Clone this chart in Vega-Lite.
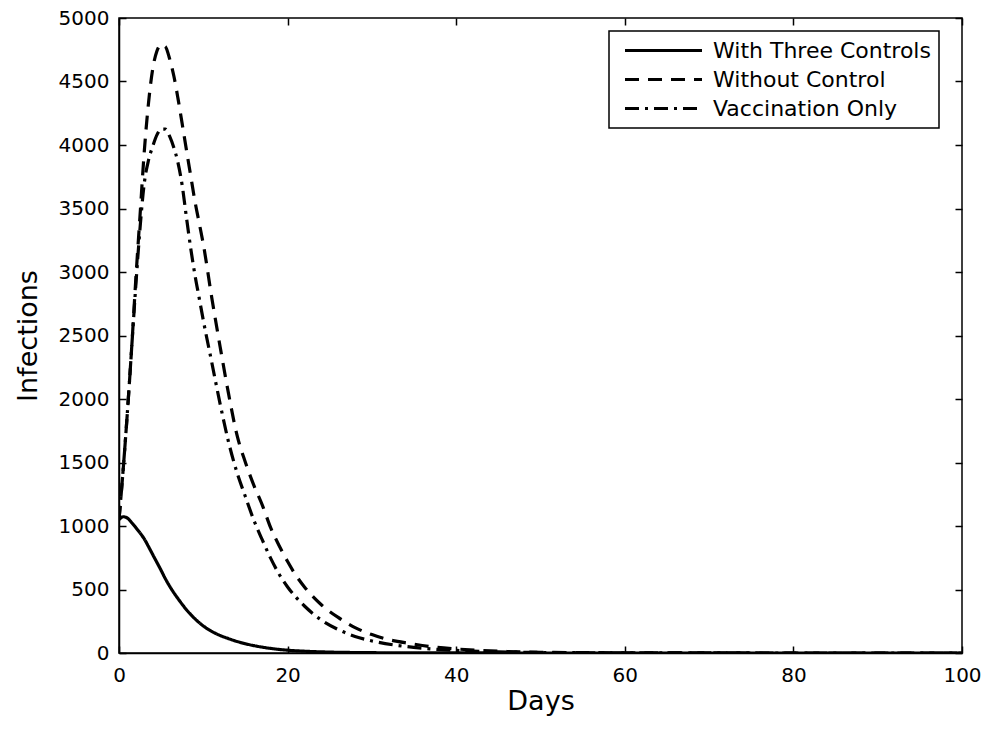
{
  "$schema": "https://vega.github.io/schema/vega-lite/v6.json",
  "autosize": {"type": "none"},
  "padding": {"left": 119, "top": 18, "right": 24, "bottom": 76},
  "width": 843,
  "height": 635,
  "background": "white",
  "config": {
    "view": {"stroke": "black", "strokeWidth": 1.5},
    "font": "DejaVu Sans"
  },
  "datasets": {
    "curves": [
      {"d":0,"v":1050,"s":"With Three Controls"},{"d":0.5,"v":1073,"s":"With Three Controls"},{"d":1,"v":1062,"s":"With Three Controls"},{"d":1.5,"v":1027,"s":"With Three Controls"},{"d":2,"v":987,"s":"With Three Controls"},{"d":2.5,"v":945,"s":"With Three Controls"},{"d":3,"v":898,"s":"With Three Controls"},{"d":3.5,"v":838,"s":"With Three Controls"},{"d":4,"v":775,"s":"With Three Controls"},{"d":4.5,"v":713,"s":"With Three Controls"},{"d":5,"v":650,"s":"With Three Controls"},{"d":5.5,"v":585,"s":"With Three Controls"},{"d":6,"v":527,"s":"With Three Controls"},{"d":6.5,"v":475,"s":"With Three Controls"},{"d":7,"v":428,"s":"With Three Controls"},{"d":7.5,"v":383,"s":"With Three Controls"},{"d":8,"v":341,"s":"With Three Controls"},{"d":8.5,"v":304,"s":"With Three Controls"},{"d":9,"v":270,"s":"With Three Controls"},{"d":9.5,"v":240,"s":"With Three Controls"},{"d":10,"v":213,"s":"With Three Controls"},{"d":11,"v":170,"s":"With Three Controls"},{"d":12,"v":138,"s":"With Three Controls"},{"d":13,"v":113,"s":"With Three Controls"},{"d":14,"v":91,"s":"With Three Controls"},{"d":15,"v":73,"s":"With Three Controls"},{"d":16,"v":58,"s":"With Three Controls"},{"d":17,"v":46,"s":"With Three Controls"},{"d":18,"v":36,"s":"With Three Controls"},{"d":19,"v":28,"s":"With Three Controls"},{"d":20,"v":22,"s":"With Three Controls"},{"d":22,"v":14,"s":"With Three Controls"},{"d":25,"v":7,"s":"With Three Controls"},{"d":30,"v":2.5,"s":"With Three Controls"},{"d":35,"v":1,"s":"With Three Controls"},{"d":40,"v":0.4,"s":"With Three Controls"},{"d":50,"v":0.1,"s":"With Three Controls"},{"d":60,"v":0,"s":"With Three Controls"},{"d":100,"v":0,"s":"With Three Controls"},
      {"d":0,"v":1050,"s":"Without Control"},{"d":0.5,"v":1450,"s":"Without Control"},{"d":1,"v":1900,"s":"Without Control"},{"d":1.5,"v":2400,"s":"Without Control"},{"d":2,"v":2950,"s":"Without Control"},{"d":2.5,"v":3450,"s":"Without Control"},{"d":3,"v":3950,"s":"Without Control"},{"d":3.5,"v":4330,"s":"Without Control"},{"d":4,"v":4600,"s":"Without Control"},{"d":4.5,"v":4740,"s":"Without Control"},{"d":5,"v":4790,"s":"Without Control"},{"d":5.5,"v":4775,"s":"Without Control"},{"d":6,"v":4680,"s":"Without Control"},{"d":6.5,"v":4545,"s":"Without Control"},{"d":7,"v":4365,"s":"Without Control"},{"d":7.5,"v":4165,"s":"Without Control"},{"d":8,"v":3960,"s":"Without Control"},{"d":8.5,"v":3760,"s":"Without Control"},{"d":9,"v":3560,"s":"Without Control"},{"d":9.5,"v":3390,"s":"Without Control"},{"d":10,"v":3220,"s":"Without Control"},{"d":11,"v":2800,"s":"Without Control"},{"d":12,"v":2410,"s":"Without Control"},{"d":13,"v":2040,"s":"Without Control"},{"d":14,"v":1715,"s":"Without Control"},{"d":15,"v":1500,"s":"Without Control"},{"d":16,"v":1320,"s":"Without Control"},{"d":17,"v":1165,"s":"Without Control"},{"d":18,"v":985,"s":"Without Control"},{"d":19,"v":845,"s":"Without Control"},{"d":20,"v":720,"s":"Without Control"},{"d":21,"v":610,"s":"Without Control"},{"d":22,"v":520,"s":"Without Control"},{"d":24,"v":380,"s":"Without Control"},{"d":26,"v":280,"s":"Without Control"},{"d":28,"v":200,"s":"Without Control"},{"d":30,"v":145,"s":"Without Control"},{"d":32,"v":105,"s":"Without Control"},{"d":34.5,"v":75,"s":"Without Control"},{"d":37,"v":50,"s":"Without Control"},{"d":40,"v":32,"s":"Without Control"},{"d":43,"v":20,"s":"Without Control"},{"d":46,"v":12,"s":"Without Control"},{"d":50,"v":6,"s":"Without Control"},{"d":55,"v":3,"s":"Without Control"},{"d":60,"v":1.5,"s":"Without Control"},{"d":70,"v":0.3,"s":"Without Control"},{"d":80,"v":0.1,"s":"Without Control"},{"d":100,"v":0,"s":"Without Control"},
      {"d":0,"v":1050,"s":"Vaccination Only"},{"d":0.5,"v":1450,"s":"Vaccination Only"},{"d":1,"v":1900,"s":"Vaccination Only"},{"d":1.5,"v":2400,"s":"Vaccination Only"},{"d":2,"v":2900,"s":"Vaccination Only"},{"d":2.5,"v":3350,"s":"Vaccination Only"},{"d":3,"v":3700,"s":"Vaccination Only"},{"d":3.5,"v":3880,"s":"Vaccination Only"},{"d":4,"v":3990,"s":"Vaccination Only"},{"d":4.5,"v":4080,"s":"Vaccination Only"},{"d":5,"v":4125,"s":"Vaccination Only"},{"d":5.5,"v":4125,"s":"Vaccination Only"},{"d":6,"v":4070,"s":"Vaccination Only"},{"d":6.5,"v":3980,"s":"Vaccination Only"},{"d":7,"v":3860,"s":"Vaccination Only"},{"d":7.5,"v":3680,"s":"Vaccination Only"},{"d":8,"v":3430,"s":"Vaccination Only"},{"d":8.5,"v":3190,"s":"Vaccination Only"},{"d":9,"v":2980,"s":"Vaccination Only"},{"d":9.5,"v":2800,"s":"Vaccination Only"},{"d":10,"v":2620,"s":"Vaccination Only"},{"d":11,"v":2290,"s":"Vaccination Only"},{"d":12,"v":1960,"s":"Vaccination Only"},{"d":13,"v":1660,"s":"Vaccination Only"},{"d":14,"v":1420,"s":"Vaccination Only"},{"d":15,"v":1230,"s":"Vaccination Only"},{"d":16,"v":1045,"s":"Vaccination Only"},{"d":17,"v":890,"s":"Vaccination Only"},{"d":18,"v":745,"s":"Vaccination Only"},{"d":19,"v":620,"s":"Vaccination Only"},{"d":20,"v":520,"s":"Vaccination Only"},{"d":22,"v":370,"s":"Vaccination Only"},{"d":24,"v":260,"s":"Vaccination Only"},{"d":26,"v":185,"s":"Vaccination Only"},{"d":28,"v":130,"s":"Vaccination Only"},{"d":30,"v":95,"s":"Vaccination Only"},{"d":33,"v":60,"s":"Vaccination Only"},{"d":36,"v":38,"s":"Vaccination Only"},{"d":40,"v":20,"s":"Vaccination Only"},{"d":45,"v":9,"s":"Vaccination Only"},{"d":50,"v":4,"s":"Vaccination Only"},{"d":60,"v":1,"s":"Vaccination Only"},{"d":70,"v":0.3,"s":"Vaccination Only"},{"d":100,"v":0,"s":"Vaccination Only"}
    ]
  },
  "data": {"name": "curves"},
  "layer": [
    {
      "mark": {"type": "line", "color": "black", "strokeWidth": 3.2, "interpolate": "monotone", "clip": true},
      "encoding": {
        "x": {"field": "d", "type": "quantitative", "scale": {"domain": [0, 100], "nice": false},
          "axis": {"orient": "bottom", "title": "Days", "values": [0,20,40,60,80,100], "grid": false,
            "tickSize": -7, "tickColor": "black", "tickWidth": 1.5, "domainColor": "black", "domainWidth": 1.5,
            "labelFont": "DejaVu Sans", "labelFontSize": 20, "labelColor": "black", "labelPadding": 19, "labelFlush": false,
            "titleFont": "DejaVu Sans", "titleFontSize": 27, "titleFontWeight": "normal", "titleColor": "black", "titlePadding": 3}},
        "y": {"field": "v", "type": "quantitative", "scale": {"domain": [0, 5000], "nice": false},
          "axis": {"orient": "left", "title": "Infections", "values": [0,500,1000,1500,2000,2500,3000,3500,4000,4500,5000], "grid": false,
            "format": "d", "tickSize": -7, "tickColor": "black", "tickWidth": 1.5, "domainColor": "black", "domainWidth": 1.5,
            "labelFont": "DejaVu Sans", "labelFontSize": 20, "labelColor": "black", "labelPadding": 17, "labelFlush": false,
            "titleFont": "DejaVu Sans", "titleFontSize": 27, "titleFontWeight": "normal", "titleColor": "black", "titlePadding": 16}},
        "strokeDash": {"field": "s", "type": "nominal",
          "scale": {"domain": ["With Three Controls", "Without Control", "Vaccination Only"], "range": [[1, 0], [14, 9], [14, 6, 3, 6]]},
          "legend": {"title": null, "orient": "none", "legendX": 490, "legendY": 13,
            "symbolType": "M-3.85,0H3.85", "symbolSize": 400, "symbolStrokeWidth": 3, "symbolStrokeColor": "black", "symbolFillColor": "transparent",
            "symbolOffset": 35, "labelOffset": 38,
            "labelFont": "DejaVu Sans", "labelFontSize": 22, "labelColor": "black", "labelLimit": 400,
            "padding": 8, "rowPadding": 6, "strokeColor": "black", "fillColor": "white",
            "encode": {"legend": {"update": {"strokeWidth": {"value": 1.5}}}}}}
      }
    },
    {
      "mark": {"type": "line", "strokeOpacity": 0, "color": "black"},
      "encoding": {
        "x": {"field": "d", "type": "quantitative",
          "axis": {"orient": "top", "title": null, "labels": false, "domain": false, "values": [0,20,40,60,80,100], "grid": false,
            "tickSize": -7, "tickColor": "black", "tickWidth": 1.5}},
        "y": {"field": "v", "type": "quantitative",
          "axis": {"orient": "right", "title": null, "labels": false, "domain": false, "values": [0,500,1000,1500,2000,2500,3000,3500,4000,4500,5000], "grid": false,
            "tickSize": -7, "tickColor": "black", "tickWidth": 1.5}},
        "detail": {"field": "s", "type": "nominal"}
      }
    }
  ],
  "resolve": {"axis": {"x": "independent", "y": "independent"}}
}
